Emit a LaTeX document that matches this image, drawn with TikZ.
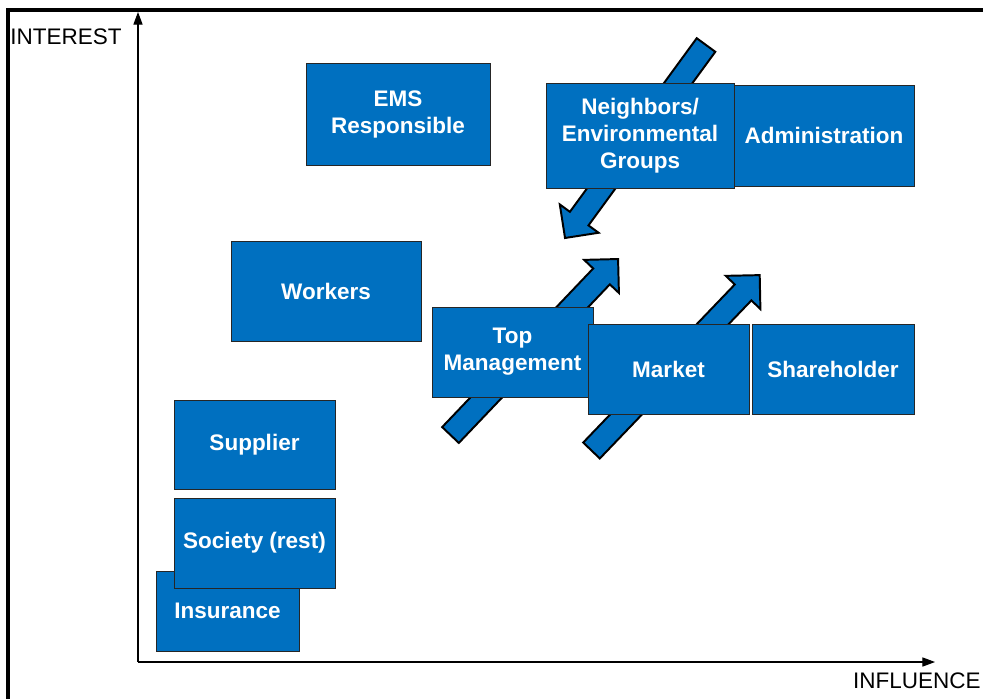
\documentclass[tikz,border=0pt]{standalone}
\usepackage{fontspec}
\setmainfont{Liberation Sans}
\usetikzlibrary{arrows.meta}
\definecolor{boxblue}{RGB}{0,112,192}

\tikzset{
  box/.style={draw=black!85, line width=0.6pt, fill=boxblue, text=white,
    font=\bfseries\fontsize{16}{19.2}\selectfont, align=center, inner sep=0pt},
  flow/.style={draw=black, line width=1.4pt, fill=boxblue, line join=miter},
  axis/.style={line width=0.8pt, -{Triangle[length=9pt,width=6.5pt]}},
  axislabel/.style={font=\fontsize{16}{19.2}\selectfont, inner sep=0pt}
}

% block arrow: tail, angle, length (px)
\newcommand{\blockarrow}[3]{%
  \begin{scope}[shift={(#1)}, rotate=#2]
    \draw[flow] (0,-11.5) -- ({#3-24},-11.5) -- ({#3-24},-24) -- (#3,0)
      -- ({#3-24},24) -- ({#3-24},11.5) -- (0,11.5) -- cycle;
  \end{scope}}

\begin{document}
\begin{tikzpicture}[x=0.025cm, y=-0.025cm]
    \useasboundingbox (0,0) rectangle (983,698);

    % Frame
    \draw[line width=2.2pt] (990,10) -- (8,10) -- (8,705);

    % Define coordinates
    \coordinate (O) at (138,662);
    \coordinate (Ytop) at (138,12);
    \coordinate (Xend) at (935,662);

    % Axes
    \draw[axis] (O) -- (Ytop);
    \draw[axis] (O) -- (Xend);
    \node[axislabel, anchor=west] (interest) at (10,37) {INTEREST};
    \node[axislabel, anchor=east] (influence) at (981,681) {INFLUENCE};

    % Upper group
    \node[box, minimum width=4.6cm, minimum height=2.55cm] (ems) at (398,114) {EMS\\Responsible};
    \node[box, minimum width=4.5cm, minimum height=2.525cm] (admin) at (824,135.5) {Administration};
    \coordinate (tailN) at (706,45);
    \blockarrow{tailN}{-126.15}{239}
    \node[box, minimum width=4.7cm, minimum height=2.625cm] (neigh) at (640,135.5) {Neighbors/\\Environmental\\Groups};

    % Middle group
    \node[box, minimum width=4.75cm, minimum height=2.5cm] (workers) at (326,291) {Workers};
    \coordinate (tailT) at (450.5,435);
    \coordinate (tailM) at (591.5,450.5);
    \blockarrow{tailT}{46.4}{243}
    \blockarrow{tailM}{46.2}{243}
    \node[box, minimum width=4.025cm, minimum height=2.25cm] (top) at (512.5,352) {Top\\Management};
    \node[box, minimum width=4.025cm, minimum height=2.25cm] (market) at (668.5,369) {Market};
    \node[box, minimum width=4.05cm, minimum height=2.25cm] (share) at (833,369) {Shareholder};

    % Lower group
    \node[box, minimum width=4.025cm, minimum height=2.225cm] (supplier) at (254.5,444.5) {Supplier};
    \node[box, minimum width=3.575cm, minimum height=2cm] (insurance) at (227.5,611) {Insurance};
    \node[box, minimum width=4.025cm, minimum height=2.25cm] (society) at (254.5,543) {Society (rest)};
\end{tikzpicture}
\end{document}
